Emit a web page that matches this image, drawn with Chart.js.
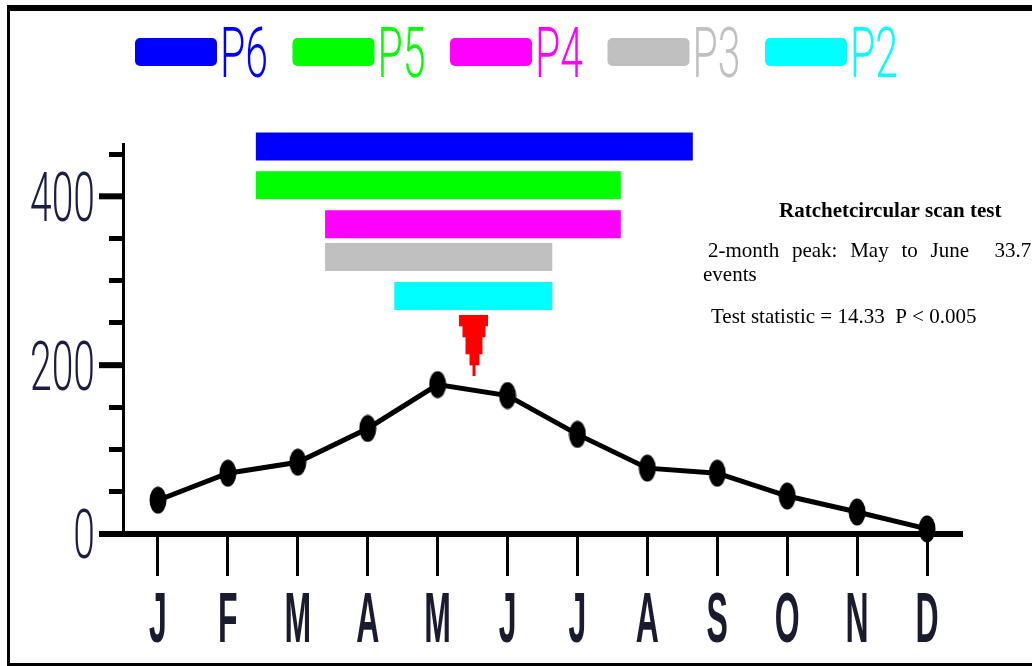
<!DOCTYPE html>
<html>
<head>
<meta charset="utf-8">
<script src="https://cdn.jsdelivr.net/npm/chart.js@4/dist/chart.umd.min.js"></script>
<style>
  html, body { margin: 0; padding: 0; background: #fff; }
  #wrap { width: 1032px; height: 666px; }
</style>
</head>
<body>
<div id="wrap"><canvas id="chart" width="1032" height="666"></canvas></div>
<script>
// monthly counts
const months = ['J', 'F', 'M', 'A', 'M', 'J', 'J', 'A', 'S', 'O', 'N', 'D'];
const cases = [40, 72, 85, 125, 177, 164, 118, 78, 72, 45, 26, 6];

// scan windows (x in month index, y level of the bar)
const windowNames = ['P6', 'P5', 'P4', 'P3', 'P2'];
const windowColors = ['#0000ff', '#00ff00', '#ff00ff', '#c0c0c0', '#00ffff'];
const windowStart = [1.4, 1.4, 2.39, 2.39, 3.38];
const windowEnd = [7.65, 6.62, 6.62, 5.64, 5.64];
const windowLevel = [459, 413, 367, 328, 282];

// red peak marker
const peakAt = [4.52];
const peakLevel = [223];

// axis ticks
const yTicks = [0, 50, 100, 150, 200, 250, 300, 350, 400, 450];
const yLabelValues = [0, 200, 400];
const yLabels = ['0', '200', '400'];

const testTitle = 'Ratchetcircular scan test';
const testLines = ['2-month peak: May to June  33.7', 'events', 'Test statistic = 14.33  P < 0.005'];

function blob() {
    const c = document.createElement('canvas');
    c.width = 18; c.height = 28;
    const g = c.getContext('2d');
    g.fillStyle = '#000';
    g.beginPath();
    g.ellipse(9, 14, 8.5, 13.5, 0, 0, Math.PI * 2);
    g.fill();
    return c;
}

function arrow() {
    const c = document.createElement('canvas');
    c.width = 29; c.height = 61;
    const g = c.getContext('2d');
    g.fillStyle = '#ff0000';
    g.fillRect(0, 0, 29, 11);
    g.fillRect(3, 11, 23, 11);
    g.fillRect(6, 22, 17, 17);
    g.fillRect(10, 39, 10, 11);
    g.fillRect(13, 50, 3, 11);
    return c;
}

// tall, narrow looking text
function tallText(ctx, text, px, py, size, sy, weight, family, color, align) {
    ctx.save();
    ctx.translate(px, py);
    ctx.scale(1, sy);
    ctx.font = weight + ' ' + size + 'px ' + family;
    ctx.fillStyle = color;
    ctx.textAlign = align;
    ctx.textBaseline = 'alphabetic';
    ctx.fillText(text, 0, 0.358 * size);
    ctx.restore();
}

const thin = 'Roboto, "Liberation Sans", sans-serif';
const heavy = '"Liberation Sans", Arial, sans-serif';

const datasets = windowNames.map((name, i) => ({
    label: name,
    data: [{ x: windowStart[i], y: windowLevel[i] }, { x: windowEnd[i], y: windowLevel[i] }],
    borderColor: windowColors[i],
    backgroundColor: windowColors[i],
    borderWidth: 28,
    borderCapStyle: 'butt',
    pointRadius: 0,
    pointHoverRadius: 0,
    clip: false
}));

datasets.push({
    label: 'peak',
    data: peakAt.map((x, i) => ({ x: x, y: peakLevel[i] })),
    showLine: false,
    pointStyle: arrow(),
    pointRadius: 10,
    clip: false
});

datasets.push({
    label: 'cases',
    data: months.map((m, i) => ({ x: i, y: cases[i] })),
    borderColor: '#000',
    borderWidth: 5,
    tension: 0,
    pointStyle: blob(),
    pointRadius: 9,
    clip: false
});

const decor = {
    id: 'decor',
    beforeDraw(chart) {
        const ctx = chart.ctx;
        ctx.save();
        ctx.fillStyle = '#fff';
        ctx.fillRect(0, 0, chart.width, chart.height);
        ctx.restore();
    },
    afterDraw(chart) {
        const ctx = chart.ctx;
        const xs = chart.scales.x;
        const ys = chart.scales.y;
        const left = chart.chartArea.left;

        // long ticks at labelled values
        ctx.save();
        ctx.fillStyle = '#000';
        yLabelValues.forEach(v => {
            const py = ys.getPixelForValue(v);
            ctx.fillRect(99, py - 3, left - 99, 6);
        });
        ctx.restore();

        yLabelValues.forEach((v, i) => {
            tallText(ctx, yLabels[i], 95, ys.getPixelForValue(v), 39, 1.75, '300', thin, '#1c1c44', 'right');
        });

        months.forEach((m, i) => {
            tallText(ctx, m, xs.getPixelForValue(i), 617, 32, 2.2, 'bold', heavy, '#1b1b2f', 'center');
        });

        // legend
        windowNames.forEach((name, i) => {
            const lx = 135 + i * 157.5;
            ctx.save();
            ctx.fillStyle = windowColors[i];
            ctx.beginPath();
            ctx.roundRect(lx, 38, 82, 28, 5);
            ctx.fill();
            ctx.restore();
            tallText(ctx, name, lx + 85, 52, 41, 1.7, '300', thin, windowColors[i], 'left');
        });

        // test text
        ctx.save();
        ctx.fillStyle = '#000';
        ctx.textAlign = 'left';
        ctx.textBaseline = 'alphabetic';
        ctx.font = 'bold 21px "Liberation Serif", "Times New Roman", serif';
        ctx.fillText(testTitle, 779, 217);
        ctx.font = '21px "Liberation Serif", "Times New Roman", serif';
        ctx.wordSpacing = '7.5px';
        ctx.fillText(testLines[0], 708, 257);
        ctx.wordSpacing = '0px';
        ctx.fillText(testLines[1], 703, 281);
        ctx.fillText(testLines[2], 711, 323);
        ctx.restore();

        // frame
        ctx.save();
        ctx.fillStyle = '#000';
        ctx.fillRect(7, 5, chart.width - 7, 6);
        ctx.fillRect(7, 5, 3, chart.height - 5);
        ctx.fillRect(7, chart.height - 3, chart.width - 7, 3);
        ctx.restore();
    }
};

new Chart(document.querySelector('#chart'), {
    type: 'line',
    data: { datasets: datasets },
    options: {
        responsive: false,
        animation: false,
        events: [],
        layout: { padding: { left: 109, right: 70, top: 144, bottom: 90 } },
        plugins: { legend: { display: false }, tooltip: { enabled: false } },
        scales: {
            x: {
                type: 'linear',
                min: -0.5,
                max: 11.5,
                afterBuildTicks: s => { s.ticks = months.map((m, i) => ({ value: i })); },
                grid: { drawOnChartArea: false, drawTicks: true, tickLength: 42, tickWidth: 3, tickColor: '#000' },
                border: { display: true, width: 6, color: '#000' },
                ticks: { display: false }
            },
            y: {
                type: 'linear',
                min: 0,
                max: 462,
                afterBuildTicks: s => { s.ticks = yTicks.map(v => ({ value: v })); },
                grid: { drawOnChartArea: false, drawTicks: true, tickLength: 14, tickWidth: 5, tickColor: '#000' },
                border: { display: true, width: 3, color: '#000' },
                ticks: { display: false }
            }
        }
    },
    plugins: [decor]
});
</script>
</body>
</html>
